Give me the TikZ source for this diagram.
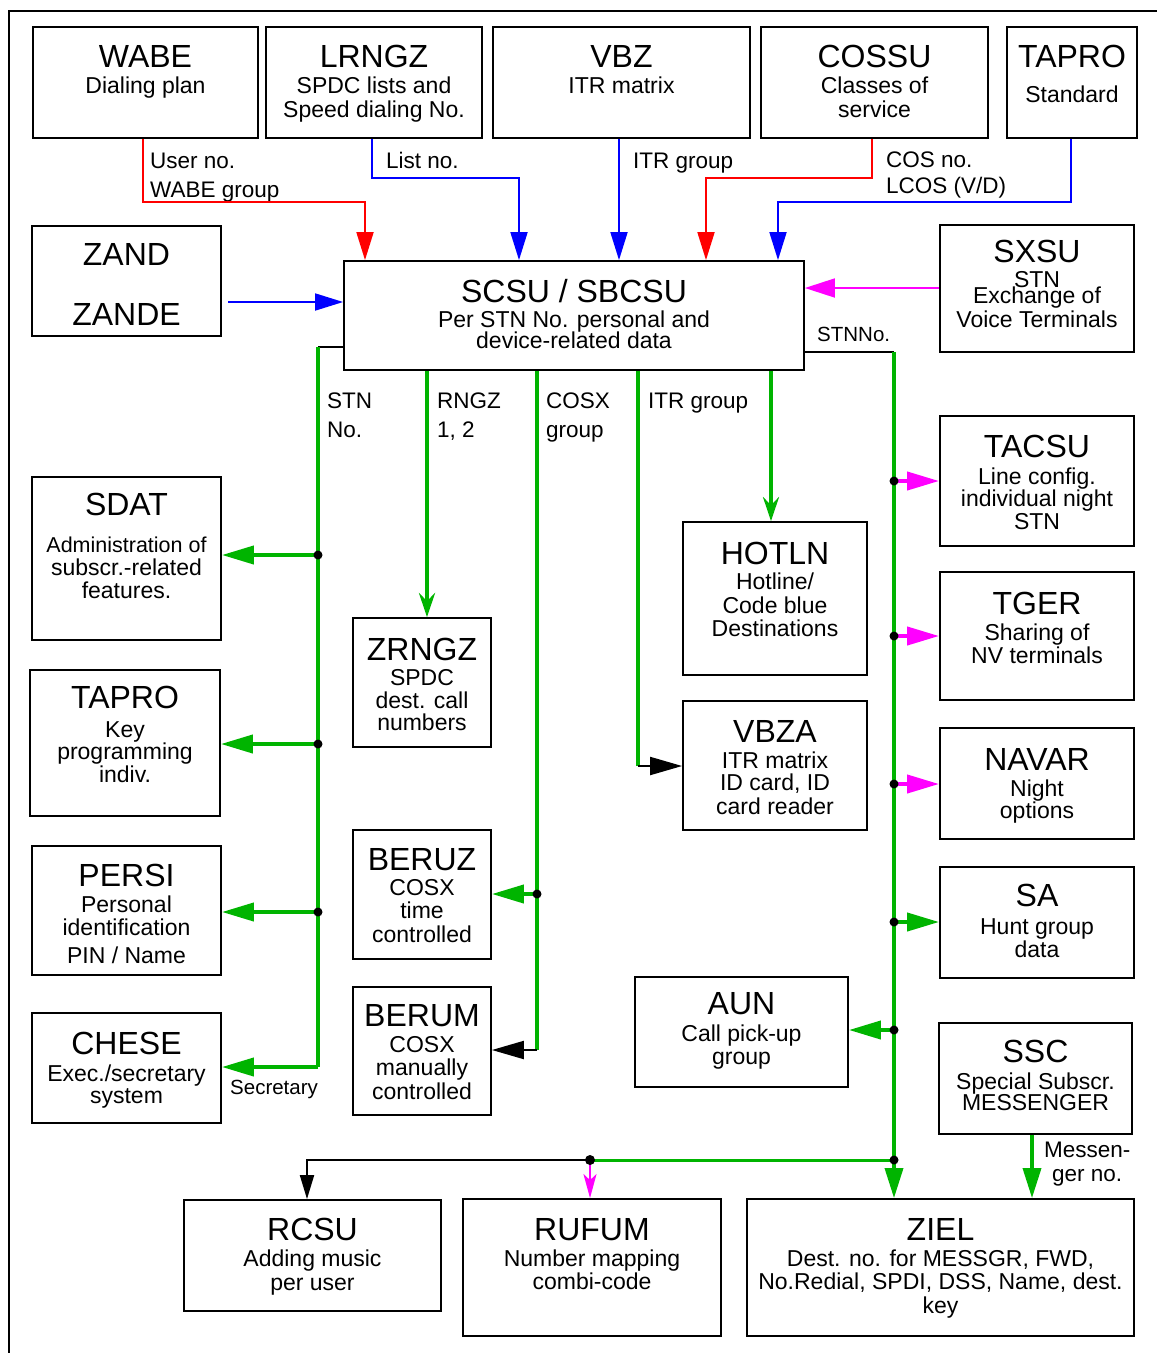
\documentclass[tikz,border=0pt]{standalone}
\usepackage{fontspec}
\setmainfont{Liberation Sans}
\usetikzlibrary{arrows.meta}
\definecolor{gr}{RGB}{0,180,0}
\definecolor{mg}{RGB}{255,0,255}
\definecolor{rd}{RGB}{255,0,0}
\definecolor{bl}{RGB}{0,0,255}
\newcommand\mkbox[5]{\node[box, minimum width={(#4-#2)*1pt}, minimum height={(#5-#3)*1pt}] (#1) at ({(#2+#4)/2},{(#3+#5)/2}) {};}
\newcommand\tx[5]{\node[#1] (#2) at (#3,#4) {#5};}
\tikzset{
  box/.style={draw, line width=1.8pt, inner sep=0pt, rectangle},
  ttl/.style={font=\fontsize{32}{32}\selectfont, inner sep=0pt, anchor=base},
  sub/.style={font=\fontsize{23}{23}\selectfont, inner sep=0pt, anchor=base},
  lbl/.style={font=\fontsize{22.5}{22.5}\selectfont, inner sep=0pt, anchor=base west},
  slbl/.style={font=\fontsize{20.5}{20.5}\selectfont, inner sep=0pt, anchor=base west},
  redc/.style={draw=rd, line width=1.8pt, -{Triangle[length=28pt,width=17pt]}},
  bluec/.style={draw=bl, line width=1.8pt, -{Triangle[length=28pt,width=17pt]}},
  magc/.style={draw=mg, line width=1.8pt, -{Triangle[length=30pt,width=19pt]}},
  gbr/.style={draw=gr, line width=4pt, -{Triangle[length=32pt,width=18pt]}},
  mbr/.style={draw=mg, line width=4pt, -{Triangle[length=32pt,width=18pt]}},
  kbr/.style={draw=black, line width=2pt, -{Triangle[length=32pt,width=18pt]}},
  gst/.style={draw=gr, line width=4.5pt, -{Stealth[length=24pt,width=16pt,inset=8pt]}},
  gln/.style={draw=gr, line width=3.5pt},
  gthk/.style={draw=gr, line width=4.8pt},
  kln/.style={draw=black, line width=2pt},
  dot/.style={fill=black}
}
\begin{document}
\begin{tikzpicture}[x=1pt,y=-1pt]
\useasboundingbox (0,0) rectangle (1157,1353);
\draw[line width=2pt] (9,1353) -- (9,11) -- (1157,11);
% boxes
\mkbox{wabe}{33}{27}{258}{138}
\mkbox{lrngz}{266}{27}{482}{138}
\mkbox{vbz}{493}{27}{750}{138}
\mkbox{cossu}{761}{27}{988}{138}
\mkbox{taprostd}{1007}{27}{1137}{138}
\mkbox{zand}{32}{226}{221}{336}
\mkbox{scsu}{344}{261}{804}{370}
\mkbox{sxsu}{940}{225}{1134}{352}
\mkbox{sdat}{32}{477}{221}{640}
\mkbox{taprokey}{30}{670}{220}{816}
\mkbox{persi}{32}{846}{221}{975}
\mkbox{chese}{32}{1013}{221}{1123}
\mkbox{zrngz}{353}{618}{491}{747}
\mkbox{beruz}{353}{830}{491}{959}
\mkbox{berum}{353}{987}{491}{1115}
\mkbox{hotln}{683}{522}{867}{675}
\mkbox{vbza}{683}{701}{867}{830}
\mkbox{aun}{635}{977}{848}{1087}
\mkbox{tacsu}{940}{416}{1134}{546}
\mkbox{tger}{940}{572}{1134}{700}
\mkbox{navar}{940}{728}{1134}{839}
\mkbox{sa}{940}{867}{1134}{978}
\mkbox{ssc}{939}{1023}{1132}{1134}
\mkbox{rcsu}{184}{1200}{441}{1311}
\mkbox{rufum}{463}{1199}{721}{1336}
\mkbox{ziel}{747}{1199}{1134}{1336}
% texts
\tx{ttl}{wabe-t}{145.5}{67}{WABE}
\tx{sub}{wabe-s1}{145.5}{93}{Dialing plan}
\tx{ttl}{lrngz-t}{374}{67}{LRNGZ}
\tx{sub}{lrngz-s1}{374}{93}{SPDC lists and}
\tx{sub}{lrngz-s2}{374}{117}{Speed dialing No.}
\tx{ttl}{vbz-t}{621.5}{67}{VBZ}
\tx{sub}{vbz-s1}{621.5}{93}{ITR matrix}
\tx{ttl}{cossu-t}{874.5}{67}{COSSU}
\tx{sub}{cossu-s1}{874.5}{93}{Classes of}
\tx{sub}{cossu-s2}{874.5}{117}{service}
\tx{ttl}{taprostd-t}{1072}{67}{TAPRO}
\tx{sub}{taprostd-s1}{1072}{102}{Standard}
\tx{ttl}{zand-t}{126.5}{265}{ZAND}
\tx{ttl}{zand-t2}{126.5}{325}{ZANDE}
\tx{ttl}{scsu-t}{574}{302}{SCSU / SBCSU}
\tx{sub}{scsu-s1}{574}{327}{Per STN No. personal and}
\tx{sub}{scsu-s2}{574}{348}{device-related data}
\tx{ttl}{sxsu-t}{1037}{262}{SXSU}
\tx{sub}{sxsu-s1}{1037}{287}{STN}
\tx{sub}{sxsu-s2}{1037}{303}{Exchange of}
\tx{sub}{sxsu-s3}{1037}{327}{Voice Terminals}
\tx{ttl}{sdat-t}{126.5}{515}{SDAT}
\tx{sub}{sdat-s1}{126.5}{552}{\fontsize{21.5}{21.5}\selectfont Administration of}
\tx{sub}{sdat-s2}{126.5}{575}{subscr.-related}
\tx{sub}{sdat-s3}{126.5}{598}{features.}
\tx{ttl}{taprokey-t}{125}{708}{TAPRO}
\tx{sub}{taprokey-s1}{125}{737}{Key}
\tx{sub}{taprokey-s2}{125}{759}{programming}
\tx{sub}{taprokey-s3}{125}{782}{indiv.}
\tx{ttl}{persi-t}{126.5}{886}{PERSI}
\tx{sub}{persi-s1}{126.5}{912}{Personal}
\tx{sub}{persi-s2}{126.5}{935}{identification}
\tx{sub}{persi-s3}{126.5}{963}{PIN / Name}
\tx{ttl}{chese-t}{126.5}{1054}{CHESE}
\tx{sub}{chese-s1}{126.5}{1081}{Exec./secretary}
\tx{sub}{chese-s2}{126.5}{1103}{system}
\tx{ttl}{zrngz-t}{422}{660}{ZRNGZ}
\tx{sub}{zrngz-s1}{422}{685}{SPDC}
\tx{sub}{zrngz-s2}{422}{708}{dest. call}
\tx{sub}{zrngz-s3}{422}{730}{numbers}
\tx{ttl}{beruz-t}{422}{870}{BERUZ}
\tx{sub}{beruz-s1}{422}{895}{COSX}
\tx{sub}{beruz-s2}{422}{918}{time}
\tx{sub}{beruz-s3}{422}{942}{controlled}
\tx{ttl}{berum-t}{422}{1026}{BERUM}
\tx{sub}{berum-s1}{422}{1052}{COSX}
\tx{sub}{berum-s2}{422}{1075}{manually}
\tx{sub}{berum-s3}{422}{1099}{controlled}
\tx{ttl}{hotln-t}{775}{564}{HOTLN}
\tx{sub}{hotln-s1}{775}{589}{Hotline/}
\tx{sub}{hotln-s2}{775}{613}{Code blue}
\tx{sub}{hotln-s3}{775}{636}{Destinations}
\tx{ttl}{vbza-t}{775}{742}{VBZA}
\tx{sub}{vbza-s1}{775}{768}{ITR matrix}
\tx{sub}{vbza-s2}{775}{790}{ID card, ID}
\tx{sub}{vbza-s3}{775}{814}{card reader}
\tx{ttl}{aun-t}{741.5}{1014}{AUN}
\tx{sub}{aun-s1}{741.5}{1041}{Call pick-up}
\tx{sub}{aun-s2}{741.5}{1064}{group}
\tx{ttl}{tacsu-t}{1037}{457}{TACSU}
\tx{sub}{tacsu-s1}{1037}{484}{Line config.}
\tx{sub}{tacsu-s2}{1037}{506}{individual night}
\tx{sub}{tacsu-s3}{1037}{529}{STN}
\tx{ttl}{tger-t}{1037}{614}{TGER}
\tx{sub}{tger-s1}{1037}{640}{Sharing of}
\tx{sub}{tger-s2}{1037}{663}{NV terminals}
\tx{ttl}{navar-t}{1037}{770}{NAVAR}
\tx{sub}{navar-s1}{1037}{796}{Night}
\tx{sub}{navar-s2}{1037}{818}{options}
\tx{ttl}{sa-t}{1037}{906}{SA}
\tx{sub}{sa-s1}{1037}{934}{Hunt group}
\tx{sub}{sa-s2}{1037}{957}{data}
\tx{ttl}{ssc-t}{1035.5}{1062}{SSC}
\tx{sub}{ssc-s1}{1035.5}{1089}{Special Subscr.}
\tx{sub}{ssc-s2}{1035.5}{1110}{MESSENGER}
\tx{ttl}{rcsu-t}{312.5}{1240}{RCSU}
\tx{sub}{rcsu-s1}{312.5}{1266}{Adding music}
\tx{sub}{rcsu-s2}{312.5}{1290}{per user}
\tx{ttl}{rufum-t}{592}{1240}{RUFUM}
\tx{sub}{rufum-s1}{592}{1266}{Number mapping}
\tx{sub}{rufum-s2}{592}{1289}{combi-code}
\tx{ttl}{ziel-t}{940.5}{1240}{ZIEL}
\tx{sub}{ziel-s1}{940.5}{1266}{Dest. no. for MESSGR, FWD,}
\tx{sub}{ziel-s2}{940.5}{1289}{No.Redial, SPDI, DSS, Name, dest.}
\tx{sub}{ziel-s3}{940.5}{1313}{key}
% labels
\tx{lbl}{l-user}{150}{168}{User no.}
\tx{lbl}{l-wabe}{150}{197}{WABE group}
\tx{lbl}{l-list}{386}{168}{List no.}
\tx{lbl}{l-itr}{633}{168}{ITR group}
\tx{lbl}{l-cos}{886}{167}{COS no.}
\tx{lbl}{l-lcos}{886}{193}{LCOS (V/D)}
\tx{slbl}{l-stnno}{817}{341}{STNNo.}
\tx{lbl}{l-stn}{327}{408}{STN}
\tx{lbl}{l-no}{327}{437}{No.}
\tx{lbl}{l-rngz}{437}{408}{RNGZ}
\tx{lbl}{l-12}{437}{437}{1, 2}
\tx{lbl}{l-cosx}{546}{408}{COSX}
\tx{lbl}{l-grp}{546}{437}{group}
\tx{lbl}{l-itr2}{648}{408}{ITR group}
\tx{slbl}{l-secr}{230}{1094}{Secretary}
\tx{lbl}{l-mess}{1044}{1157}{Messen-}
\tx{lbl}{l-ger}{1052}{1181}{ger no.}
% top connectors
\draw[redc] (wabe.south -| 143,0) |- (365,202) -- (scsu.north -| 365,0);
\draw[bluec] (lrngz.south -| 372,0) |- (519,178) -- (scsu.north -| 519,0);
\draw[bluec] (vbz.south -| 619,0) -- (scsu.north -| 619,0);
\draw[redc] (cossu.south -| 872,0) |- (706,178) -- (scsu.north -| 706,0);
\draw[bluec] (taprostd.south -| 1071,0) |- (778,202) -- (scsu.north -| 778,0);
\coordinate (zs) at (228,302);
\draw[bluec] (zs) -- (scsu.west |- zs);
\draw[magc] (sxsu.west |- 0,288) -- (scsu.east |- 0,288);
% left trunk
\coordinate (lt) at (318,347);
\coordinate (lb) at (318,1067);
\draw[kln] (scsu.west |- lt) -- (lt);
\draw[gln] (lt) -- (lb);
\draw[gbr] (lb) -- (chese.east |- lb);
\foreach \n/\y in {sdat/555, taprokey/744, persi/912}{
  \draw[gbr] (318,\y) -- (\n.east |- 0,\y);
  \fill[dot] (318,\y) circle (4.5pt);
}
% RNGZ
\draw[gst] (scsu.south -| 427,0) -- (zrngz.north -| 427,0);
% COSX
\coordinate (cb) at (537,1050);
\draw[gthk] (scsu.south -| cb) -- (cb);
\draw[gbr] (537,894) -- (beruz.east |- 0,894);
\fill[dot] (537,894) circle (4.5pt);
\draw[kbr] (cb) -- (berum.east |- cb);
% ITR group
\coordinate (ib) at (638,766);
\draw[gln] (scsu.south -| ib) -- (ib);
\draw[kbr] (ib) -- (vbza.west |- ib);
% HOTLN
\draw[gst, line width=3.5pt] (scsu.south -| 771,0) -- (hotln.north -| 771,0);
% right trunk
\coordinate (rt) at (894,352);
\draw[kln] (scsu.east |- rt) -- (rt);
\draw[gln, -{Triangle[length=30pt,width=18pt]}] (rt) -- (ziel.north -| rt);
\foreach \n/\y in {tacsu/481, tger/636, navar/784}{
  \draw[mbr] (894,\y) -- (\n.west |- 0,\y);
  \fill[dot] (894,\y) circle (4.5pt);
}
\draw[gbr] (894,922) -- (sa.west |- 0,922);
\fill[dot] (894,922) circle (4.5pt);
\draw[gbr] (894,1030) -- (aun.east |- 0,1030);
\fill[dot] (894,1030) circle (4.5pt);
% bottom
\coordinate (bj) at (894,1160);
\coordinate (bm) at (590,1160);
\coordinate (bl) at (307,1160);
\draw[draw=gr, line width=3pt] (bj) -- (bm);
\draw[kln, -{Triangle[length=24pt,width=14pt]}] (bm) -- (bl) -- (rcsu.north -| bl);
\draw[draw=mg, line width=2pt, -{Stealth[length=24pt,width=13pt,inset=6pt]}] (bm) -- (rufum.north -| bm);
\fill[dot] (bm) circle (5pt);
\fill[dot] (bj) circle (4.5pt);
% SSC
\draw[gln, -{Triangle[length=30pt,width=18pt]}] (ssc.south -| 1032,0) -- (ziel.north -| 1032,0);
\end{tikzpicture}
\end{document}
